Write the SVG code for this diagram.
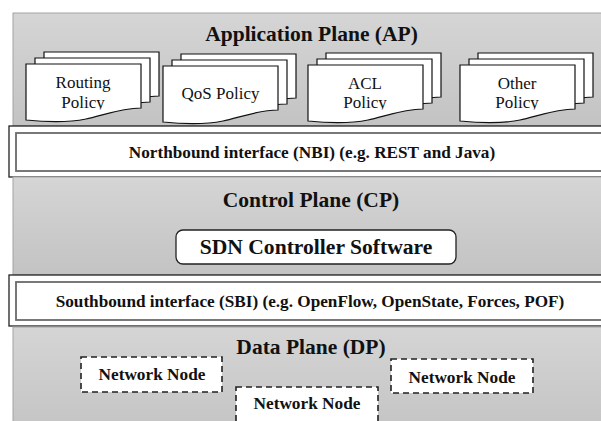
<svg xmlns="http://www.w3.org/2000/svg" width="601" height="421" viewBox="0 0 601 421">
<defs>
<linearGradient id="pg" x1="0" y1="0" x2="0" y2="1">
<stop offset="0" stop-color="#d5d5d5"/>
<stop offset="1" stop-color="#c3c3c3"/>
</linearGradient>
<path id="doc" d="M0,0 H115 V44 C95,44 75,52 60,55 C40,59 20,58 0,56 Z"/>
<clipPath id="c1"><rect x="0" y="0" width="601" height="109.5"/></clipPath>
</defs>
<style>
.panel{fill:url(#pg);stroke:#a3a3a3;stroke-width:1}
.sheet{fill:#fff;stroke:#111;stroke-width:1.2}
.outer{fill:#fff;stroke:#222;stroke-width:1.3}
.inner{fill:#fff;stroke:#6a6a6a;stroke-width:1.8}
text{fill:#111;text-anchor:middle}
.title{font-weight:bold;font-size:21.5px}
.bar{font-weight:bold;font-size:17.2px}
.doct{font-size:17px}
.node{fill:#fff;stroke:#222;stroke-width:1.6;stroke-dasharray:6 4}
.nodet{font-weight:bold;font-size:17.3px}
</style>
<rect width="601" height="421" fill="#fff"/>
<g font-family="Liberation Serif, Tinos, DejaVu Serif, serif">

<g id="application-plane">
<rect class="panel" x="13" y="13" width="600" height="113"/>
<text class="title" x="311.5" y="41">Application Plane (AP)</text>
</g>

<g id="routing-policy">
<use href="#doc" class="sheet" x="44" y="52"/>
<use href="#doc" class="sheet" x="35" y="58"/>
<use href="#doc" class="sheet" x="26" y="64"/>
<text class="doct" x="83" y="88">Routing</text>
<text class="doct" x="83" y="108" clip-path="url(#c1)">Policy</text>
</g>

<g id="qos-policy">
<use href="#doc" class="sheet" x="181" y="54"/>
<use href="#doc" class="sheet" x="172" y="60"/>
<use href="#doc" class="sheet" x="163" y="66"/>
<text class="doct" x="220.5" y="99">QoS Policy</text>
</g>

<g id="acl-policy">
<use href="#doc" class="sheet" x="326" y="53"/>
<use href="#doc" class="sheet" x="317" y="59"/>
<use href="#doc" class="sheet" x="308" y="65"/>
<text class="doct" x="365" y="89">ACL</text>
<text class="doct" x="365" y="108" clip-path="url(#c1)">Policy</text>
</g>

<g id="other-policy">
<use href="#doc" class="sheet" x="478" y="53"/>
<use href="#doc" class="sheet" x="469" y="59"/>
<use href="#doc" class="sheet" x="460" y="65"/>
<text class="doct" x="517" y="89">Other</text>
<text class="doct" x="517" y="108" clip-path="url(#c1)">Policy</text>
</g>

<g id="northbound-interface">
<rect class="outer" x="9" y="126" width="610" height="51"/>
<rect class="inner" x="16" y="133" width="610" height="38"/>
<text class="bar" x="312" y="158">Northbound interface (NBI) (e.g. REST and Java)</text>
</g>

<g id="control-plane">
<rect class="panel" x="13" y="177" width="600" height="98"/>
<text class="title" x="311" y="207">Control Plane (CP)</text>
</g>

<g id="sdn-controller">
<rect x="176" y="230" width="280" height="34" rx="7" fill="#fff" stroke="#222" stroke-width="1.3"/>
<text class="title" x="316" y="254" style="font-size:21.6px">SDN Controller Software</text>
</g>

<g id="southbound-interface">
<rect class="outer" x="9" y="275" width="610" height="51"/>
<rect class="inner" x="16" y="282" width="610" height="38"/>
<text class="bar" x="310" y="307">Southbound interface (SBI) (e.g. OpenFlow, OpenState, Forces, POF)</text>
</g>

<g id="data-plane">
<rect class="panel" x="13" y="327" width="600" height="110"/>
<text class="title" x="311" y="354">Data Plane (DP)</text>
</g>

<g id="network-node-1">
<rect class="node" x="81" y="357" width="141" height="35"/>
<text class="nodet" x="152" y="380">Network Node</text>
</g>
<g id="network-node-2">
<rect class="node" x="236" y="387" width="142" height="45"/>
<text class="nodet" x="307" y="409">Network Node</text>
</g>
<g id="network-node-3">
<rect class="node" x="391" y="359" width="142" height="34"/>
<text class="nodet" x="462" y="383">Network Node</text>
</g>

</g>
<g id="connectors"></g>
</svg>
